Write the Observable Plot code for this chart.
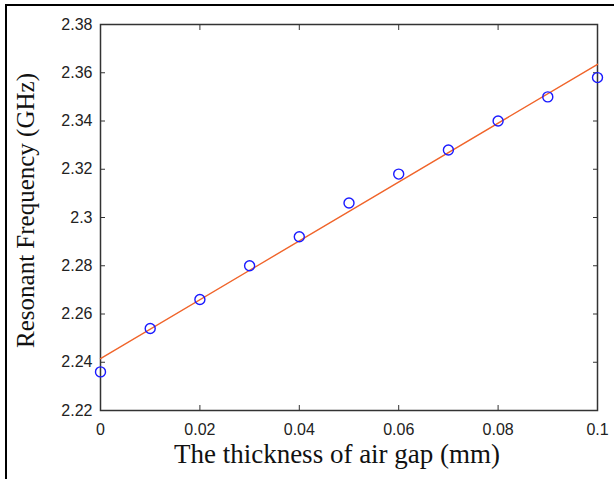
<!DOCTYPE html>
<html>
<head>
<meta charset="utf-8">
<script src="https://cdn.jsdelivr.net/npm/d3@7"></script>
<script src="https://cdn.jsdelivr.net/npm/@observablehq/plot@0.6"></script>
<style>
  html, body { margin: 0; padding: 0; background: #fff; }
  #wrap { position: relative; width: 614px; height: 479px; overflow: hidden; }
  #border { position: absolute; left: 5px; top: 4px; width: 700px; height: 600px;
            border-left: 2px solid #000; border-top: 2px solid #000; pointer-events: none; }
  svg { position: absolute; left: 0; top: 0; }
</style>
</head>
<body>
<div id="wrap"><div id="border"></div></div>
<script>
const gap = [0, 0.01, 0.02, 0.03, 0.04, 0.05, 0.06, 0.07, 0.08, 0.09, 0.1];
const freq = [2.236, 2.254, 2.266, 2.280, 2.292, 2.306, 2.318, 2.328, 2.340, 2.350, 2.358];
const fitX = [0, 0.1];
const fitY = [2.2415, 2.3635];
const xTicks = [0, 0.02, 0.04, 0.06, 0.08, 0.1];
const yTicks = [2.22, 2.24, 2.26, 2.28, 2.3, 2.32, 2.34, 2.36, 2.38];
const xLabel = "The thickness of air gap (mm)";
const yLabel = "Resonant Frequency (GHz)";

const pts = gap.map((g, i) => ({x: g, y: freq[i]}));
const fit = fitX.map((g, i) => ({x: g, y: fitY[i]}));
const fmt = d => String(+d.toFixed(2));
const serif = "Liberation Serif, Times New Roman, serif";

const chart = Plot.plot({
  width: 614,
  height: 479,
  marginLeft: 100,
  marginRight: 17,
  marginTop: 24,
  marginBottom: 69,
  style: {background: "transparent", color: "#222", fontSize: "16px",
          fontFamily: "Liberation Sans, Arial, sans-serif"},
  x: {domain: [0, 0.1]},
  y: {domain: [2.22, 2.38]},
  marks: [
    Plot.axisX(xTicks, {anchor: "bottom", tickSize: -5, tickPadding: 18, tickFormat: fmt, label: null,
      stroke: "#333", fill: "#222"}),
    Plot.axisX(xTicks, {anchor: "top", tickSize: -5, tickFormat: null, text: null, label: null, stroke: "#333"}),
    Plot.axisY(yTicks, {anchor: "left", tickSize: -5, tickPadding: 13, tickFormat: fmt, label: null,
      stroke: "#333", fill: "#222"}),
    Plot.axisY(yTicks, {anchor: "right", tickSize: -5, tickFormat: null, text: null, label: null, stroke: "#333"}),
    Plot.frame({stroke: "#333", strokeWidth: 1.5}),
    Plot.line(fit, {x: "x", y: "y", stroke: "#f0642a", strokeWidth: 1.4}),
    Plot.dot(pts, {x: "x", y: "y", r: 5, stroke: "#1a1aff", strokeWidth: 1.4, fill: "none"}),
    Plot.text([xLabel], {frameAnchor: "bottom", dx: -12, dy: 52, fontSize: 27, textAnchor: "middle",
      fontFamily: serif, fill: "#111"}),
    Plot.text([yLabel], {frameAnchor: "left", dx: -75, dy: -7, rotate: -90, textAnchor: "middle",
      fontSize: 25, fontFamily: serif, fill: "#111"})
  ]
});
document.getElementById("wrap").prepend(chart);
</script>
</body>
</html>
